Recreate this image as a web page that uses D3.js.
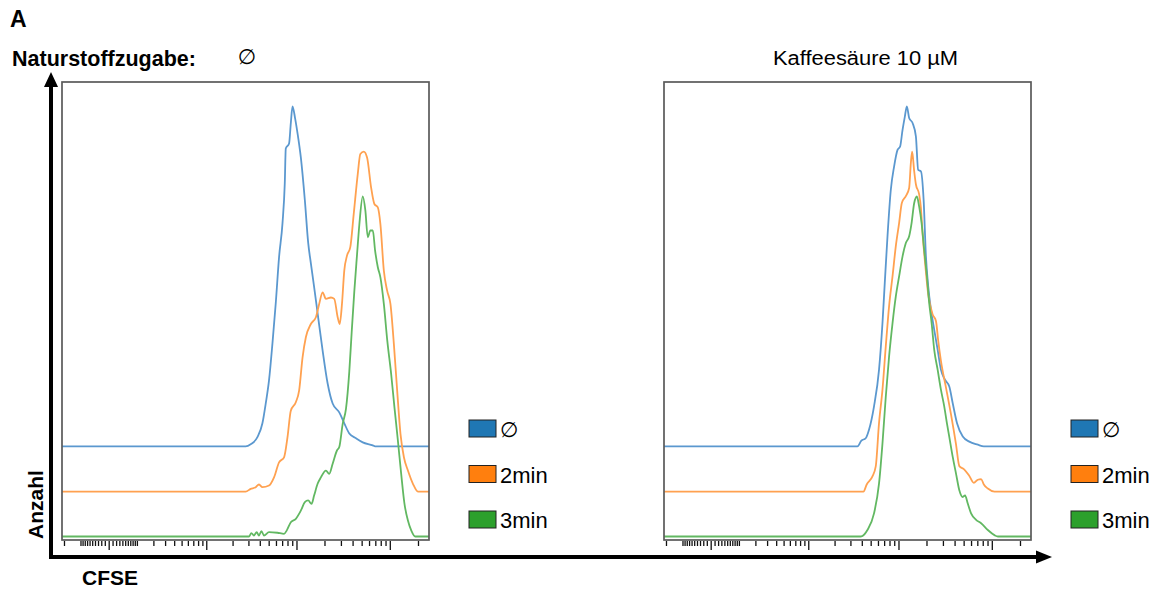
<!DOCTYPE html>
<html>
<head>
<meta charset="utf-8">
<script src="https://cdn.jsdelivr.net/npm/d3@7"></script>
<style>
  html, body { margin: 0; padding: 0; background: #fff; }
  svg { display: block; font-family: "Liberation Sans", Arial, Helvetica, sans-serif; }
</style>
</head>
<body>
<svg id="chart" width="1167" height="592"></svg>
<script>
// ---- series ----
const seriesNames = ["∅", "2min", "3min"];
const fillColors = ["#1f77b4", "#ff7f0e", "#2ca02c"];
const lineColors = ["#5b98cf", "#ffa150", "#62b862"];
// vertical stagger of the overlaid histograms, in % of max
const staggerOffsets = [26.5, 13.2, 0];

// ---- panels ----
const panelTitles = ["∅", "Kaffeesäure 10 µM"];

// ---- CFSE axis ticks (biexponential display) ----
const tickMajor = [0, 1000, 10000, 100000];
const tickMinor = [-200, -100, -90, -80, -70, -60, -50, -40, -30, -20, -10,
  10, 20, 30, 40, 50, 60, 70, 80, 90, 100,
  200, 300, 400, 500, 600, 700, 800, 900,
  2000, 3000, 4000, 5000, 6000, 7000, 8000, 9000,
  20000, 30000, 40000, 50000, 60000, 70000, 80000, 90000,
  200000];
const cfseDomain = [-215, 262144];
const channelCount = 256;

// ---- histograms: [display channel, count in % of max] ----
const histNoneCtrl = [[0,0],[128.1,0],[131.6,0.6],[136.3,2.7],[139.8,6.8],[142.1,12.6],[144.4,19.4],[146.8,30.3],[149.1,42.1],[151.4,55.6],[153.8,65.6],[155.4,77.4],[156.1,87.6],[158.4,89.1],[159.6,95],[160.8,100],[162.6,96.5],[164.3,92.1],[166.6,85],[169.4,72.4],[171.7,60],[173.6,53.8],[175.9,46.8],[178.7,37.9],[181.8,28.2],[185.3,18.5],[188.8,12.6],[193.4,10],[196.9,6.8],[200.4,3.8],[205.1,2.4],[209.8,1.2],[216.8,0.3],[218.4,0],[256,0]];
const hist2minCtrl = [[0,0],[128.1,0],[131.6,0.8],[135.1,1.3],[137.4,2.1],[139.8,1.3],[144.4,1.8],[147.9,4.2],[151.4,8.6],[154.9,10.1],[157.3,16],[159.6,23.8],[163.1,26.3],[165.4,29.7],[167.8,39.5],[170.1,45.4],[173.6,49.3],[177.1,51.3],[179.4,55.2],[181.8,58.6],[184.1,56.7],[187.6,57.1],[189.9,56.7],[192.3,51.3],[193.7,49.3],[195.3,55.2],[196.9,65],[198.8,69.4],[201.1,71.9],[203.5,81.7],[206.3,93.4],[208.1,99.3],[210.5,100],[212.8,98.3],[215.6,89.5],[217.9,84.6],[220.3,83.6],[222.1,78.7],[224.5,65],[226.8,59.1],[229.1,55.2],[231.5,43.4],[233.8,29.7],[236.1,17],[238.5,10.1],[241.3,6.2],[244.8,2.3],[248.3,0],[256,0]];
const hist3minCtrl = [[0,0],[130.4,0],[132.1,1],[133.9,0.3],[135.8,1.3],[137.4,0.3],[139.1,1.6],[140.9,0.3],[144.4,1.3],[150.3,1.1],[154.9,0.8],[156.8,1.8],[159.6,4.2],[163.1,5.2],[166.6,7.6],[169.4,10.1],[171.7,10.6],[174.1,9.6],[175.9,12.1],[178.3,15.5],[180.6,17.4],[184.1,19.4],[186.4,18.4],[188.8,21.4],[191.8,25.3],[193.4,26.3],[195.8,33.1],[198.1,37.6],[200.4,48.5],[202.1,60.3],[203.9,72.1],[205.8,82.9],[207.4,91.7],[209.8,100],[211.6,95.9],[213.3,88],[215.1,90],[216.8,90],[218.4,84.1],[220.3,79.2],[222.1,76.2],[224.5,68.4],[226.9,57.6],[229.6,47.8],[231.9,38],[234.3,28.2],[236.6,18.4],[238.9,9.6],[241.3,4.7],[243.6,1.8],[246.4,0],[256,0]];

const histNoneCaf = [[0,0],[134.9,0],[137.7,1.7],[140.7,2.4],[143,4.9],[146.5,11.8],[150,22.6],[152.4,36.3],[154,48.1],[155.9,61.8],[158.2,75.4],[160.5,82.3],[162.9,87.2],[164.7,88.2],[166.4,93.1],[168,97],[169.4,100],[171,96.6],[173.4,95.1],[175.7,91.2],[177.3,81.3],[179.2,80.9],[181.1,72.5],[182.7,55.9],[184.3,47.1],[186.2,40.3],[188.5,34.3],[190.9,28.4],[193.2,22.5],[196,19.6],[199,17.6],[201.4,12.7],[204.4,6.8],[208.4,2.9],[213,1.4],[218.9,0.5],[223.1,0],[256,0]];
const hist2minCaf = [[0,0],[139.1,0],[141.4,2.1],[145.4,4.5],[147.7,7.4],[150,20.2],[152.4,30],[154.7,42.7],[157,54.5],[159.4,63.3],[161.7,72.2],[164,79],[165.9,84.9],[168.7,86.9],[171,89.3],[172.2,96.7],[173.1,100],[174.5,94.3],[175.7,90.4],[178,87.4],[179.2,83.5],[180.4,75.7],[182,67.8],[184.3,58],[187.4,52.1],[189.7,50.2],[191.3,44.3],[193.2,38.4],[196.7,30.6],[200.2,22.7],[203.7,13.9],[206,7.5],[209.5,6.5],[213,4.6],[216.1,2.6],[218.9,3.5],[221.2,3.7],[223.1,2.1],[225.9,0.9],[230.5,0],[256,0]];
const hist3minCaf = [[0,0],[137.2,0],[141.9,1.9],[146.5,6.8],[150,15.6],[152.4,27.4],[154.7,41.1],[157,52.9],[159.4,62.7],[161.7,70.6],[164,76.5],[166.4,82.4],[168.7,86.3],[171,88.3],[172.7,92.2],[174.5,98],[176.4,100],[178,97],[179.7,92.1],[181.5,84.3],[183.4,76.5],[185,68.6],[186.7,62.7],[188.5,54.9],[190.9,49],[193.2,43.1],[195.5,38.2],[197.4,33.2],[199,29.3],[201.4,23.4],[203.7,18.5],[206,13.6],[208.4,11.6],[210,12.1],[211.9,9.7],[214.2,6.8],[217.7,4.9],[221.2,3.9],[225.9,1.9],[230.5,0.4],[232.9,0],[256,0]];

const panelHists = [
  [histNoneCtrl, hist2minCtrl, hist3minCtrl],
  [histNoneCaf, hist2minCaf, hist3minCaf]
];

// ---- layout ----
const svg = d3.select("#chart");
const panelLeft = [62, 664];
const panelW = 367;
const panelTop = 82, panelBottom = 540;
const legendDX = 40;

// shared count scale: 0 → lowest baseline, 100 → its peak
const y = d3.scaleLinear().domain([0, 100]).range([536.5, 196.5]);

const defs = svg.append("defs");

panelLeft.forEach((x0, p) => {
  const xCh = d3.scaleLinear().domain([0, channelCount]).range([x0, x0 + panelW]);
  const xCfse = d3.scaleSymlog().constant(100).domain(cfseDomain).range([x0, x0 + panelW]);

  const clipId = "clip" + p;
  defs.append("clipPath").attr("id", clipId)
    .append("rect").attr("x", x0).attr("y", panelTop)
    .attr("width", panelW).attr("height", panelBottom - panelTop);

  const g = svg.append("g");

  // histograms
  const curves = g.append("g").attr("clip-path", `url(#${clipId})`);
  panelHists[p].forEach((hist, i) => {
    const line = d3.line()
      .x(d => xCh(d[0]))
      .y(d => y(d[1] + staggerOffsets[i]))
      .curve(d3.curveMonotoneX);
    curves.append("path")
      .datum(hist)
      .attr("d", line)
      .attr("fill", "none")
      .attr("stroke", lineColors[i])
      .attr("stroke-width", 1.8)
      .attr("stroke-linejoin", "round");
  });

  // frame
  g.append("rect")
    .attr("x", x0).attr("y", panelTop)
    .attr("width", panelW).attr("height", panelBottom - panelTop)
    .attr("fill", "none").attr("stroke", "#5a5a5a").attr("stroke-width", 1.7);

  // CFSE ticks
  const minorAxis = d3.axisBottom(xCfse).tickValues(tickMinor).tickSize(5).tickFormat("");
  const majorAxis = d3.axisBottom(xCfse).tickValues(tickMajor).tickSize(9).tickFormat("");
  [minorAxis, majorAxis].forEach(ax => {
    const ag = g.append("g").attr("transform", `translate(0,${panelBottom + 1})`).call(ax);
    ag.select(".domain").remove();
    ag.selectAll(".tick line").attr("stroke", "#111").attr("stroke-width", 1.3);
  });

  // legend
  const lx = x0 + panelW + legendDX;
  const legendTops = [420, 465.5, 511];
  seriesNames.forEach((name, i) => {
    g.append("rect")
      .attr("x", lx).attr("y", legendTops[i])
      .attr("width", 27).attr("height", 17)
      .attr("fill", fillColors[i]).attr("stroke", "#222").attr("stroke-width", 1);
    g.append("text")
      .attr("x", lx + 31).attr("y", legendTops[i] + 17)
      .attr("font-size", i === 0 ? 21 : 22)
      .attr("font-family", i === 0 ? "DejaVu Sans, sans-serif" : null)
      .attr("fill", "#000")
      .text(name);
  });
});

// panel titles
svg.append("text").attr("x", 10).attr("y", 27)
  .attr("font-size", 23).attr("font-weight", "bold").text("A");
svg.append("text").attr("x", 12).attr("y", 66)
  .attr("font-size", 21.5).attr("font-weight", "bold").text("Naturstoffzugabe:");
svg.append("text").attr("x", 247).attr("y", 64)
  .attr("text-anchor", "middle").attr("font-size", 21)
  .attr("font-family", "DejaVu Sans, sans-serif").text(panelTitles[0]);
svg.append("text").attr("x", 865.5).attr("y", 65)
  .attr("text-anchor", "middle").attr("font-size", 20)
  .attr("textLength", 185).attr("lengthAdjust", "spacingAndGlyphs")
  .text(panelTitles[1]);

// axis arrows
const arrows = svg.append("g").attr("fill", "#000").attr("stroke", "#000");
arrows.append("line").attr("x1", 51).attr("y1", 559).attr("x2", 51).attr("y2", 84).attr("stroke-width", 4);
arrows.append("polygon").attr("points", "51,72 44,87 58,87").attr("stroke", "none");
arrows.append("line").attr("x1", 49).attr("y1", 557).attr("x2", 1040).attr("y2", 557).attr("stroke-width", 4);
arrows.append("polygon").attr("points", "1052,557 1036,550.5 1036,563.5").attr("stroke", "none");

// axis titles
svg.append("text")
  .attr("transform", "translate(43,539) rotate(-90)")
  .attr("font-size", 21).attr("font-weight", "bold").text("Anzahl");
svg.append("text").attr("x", 82).attr("y", 585)
  .attr("font-size", 21).attr("font-weight", "bold").text("CFSE");
</script>
</body>
</html>
